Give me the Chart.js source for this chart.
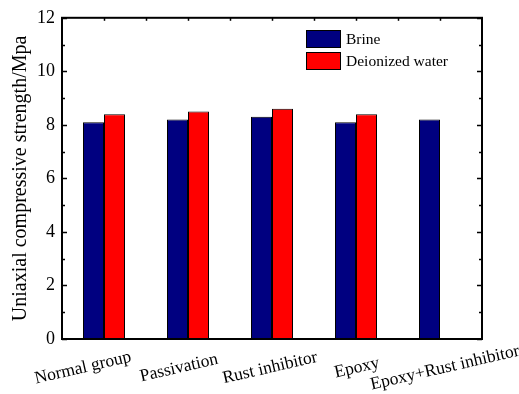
<!DOCTYPE html>
<html>
<head>
<meta charset="utf-8">
<script src="https://cdn.jsdelivr.net/npm/chart.js@4.4.1/dist/chart.umd.min.js"></script>
<style>
  html, body { margin: 0; padding: 0; background: #fff; }
  #wrap { width: 519px; height: 394px; }
</style>
</head>
<body>
<div id="wrap"><canvas id="c" width="519" height="394"></canvas></div>
<script>
// Uniaxial compressive strength of the specimen groups (MPa)
const categories = ['Normal group', 'Passivation', 'Rust inhibitor', 'Epoxy', 'Epoxy+Rust inhibitor'];
const brine = [8.1, 8.2, 8.3, 8.1, 8.2];
const deionizedWater = [8.4, 8.5, 8.6, 8.4, null];
const yTicks = [0, 2, 4, 6, 8, 10, 12];

const SERIF = '"Liberation Serif", "Times New Roman", serif';

// horizontal nudges for the slanted category captions (px)
const captionShift = [-21, -9, -2, 1, 5];

const framePlugin = {
  id: 'frame',
  afterDatasetsDraw(chart) {
    const { ctx, chartArea: a, scales } = chart;
    const y = scales.y;
    ctx.save();
    ctx.strokeStyle = '#000';
    // inward tick marks, left and right
    ctx.lineWidth = 1.5;
    for (let v = 0; v <= 12; v += 1) {
      const py = Math.round(y.getPixelForValue(v)) + 0.5;
      const len = v % 2 === 0 ? 5 : 3;
      ctx.beginPath();
      ctx.moveTo(a.left, py); ctx.lineTo(a.left + len, py);
      ctx.moveTo(a.right, py); ctx.lineTo(a.right - len, py);
      ctx.stroke();
    }
    // small marks along the top edge
    const step = (a.right - a.left) / categories.length / 2;
    for (let i = 1; i < categories.length * 2; i++) {
      const px = Math.round(a.left + i * step) + 0.5;
      ctx.beginPath();
      ctx.moveTo(px, a.top); ctx.lineTo(px, a.top + 3);
      ctx.stroke();
    }
    // axis frame
    ctx.lineWidth = 2;
    ctx.strokeRect(a.left, a.top, a.right - a.left, a.bottom - a.top);
    ctx.restore();
  },
  afterDraw(chart) {
    const { ctx, scales } = chart;
    const x = scales.x;
    ctx.save();
    // slanted category captions
    ctx.fillStyle = '#000';
    ctx.font = '17.5px ' + SERIF;
    ctx.textAlign = 'center';
    ctx.textBaseline = 'middle';
    categories.forEach((lab, i) => {
      const px = x.getPixelForTick(i) + captionShift[i];
      ctx.save();
      ctx.translate(px, 368);
      ctx.rotate(-13 * Math.PI / 180);
      ctx.fillText(lab, 0, 0);
      ctx.restore();
    });
    // legend box
    const lx = 306, ly = 30, bw = 35, bh = 18, gap = 4;
    ctx.font = '15.5px ' + SERIF;
    ctx.textAlign = 'left';
    chart.data.datasets.forEach((ds, i) => {
      const top = ly + i * (bh + gap);
      ctx.fillStyle = ds.backgroundColor;
      ctx.fillRect(lx, top, bw, bh);
      ctx.lineWidth = 1;
      ctx.strokeStyle = '#000';
      ctx.strokeRect(lx + 0.5, top + 0.5, bw - 1, bh - 1);
      ctx.fillStyle = '#000';
      ctx.fillText(ds.label, lx + bw + 5, top + bh / 2 + 1);
    });
    ctx.restore();
  }
};

new Chart(document.getElementById('c'), {
  type: 'bar',
  data: {
    labels: categories,
    datasets: [
      { label: 'Brine', data: brine, backgroundColor: '#000080', borderColor: '#000', borderWidth: 1 },
      { label: 'Deionized water', data: deionizedWater, backgroundColor: '#ff0000', borderColor: '#000', borderWidth: 1 }
    ]
  },
  options: {
    responsive: false,
    animation: false,
    devicePixelRatio: 1,
    layout: { padding: { top: 17, right: 37, left: 0, bottom: 0 } },
    datasets: { bar: { categoryPercentage: 0.5, barPercentage: 1.0 } },
    plugins: { legend: { display: false }, tooltip: { enabled: false } },
    scales: {
      x: {
        grid: { display: false, drawTicks: false },
        border: { display: false },
        ticks: { display: false },
        afterFit(s) { s.height = 55; }
      },
      y: {
        min: 0, max: 12,
        afterBuildTicks(s) { s.ticks = yTicks.map(v => ({ value: v })); },
        grid: { display: false, drawTicks: false },
        border: { display: false },
        ticks: { color: '#000', padding: 7, font: { family: SERIF, size: 18 } },
        title: {
          display: true,
          text: 'Uniaxial compressive strength/Mpa',
          color: '#000',
          font: { family: SERIF, size: 20 },
          padding: { top: 9, bottom: 0 }
        },
        afterFit(s) { s.width = 62; }
      }
    }
  },
  plugins: [framePlugin]
});
</script>
</body>
</html>
